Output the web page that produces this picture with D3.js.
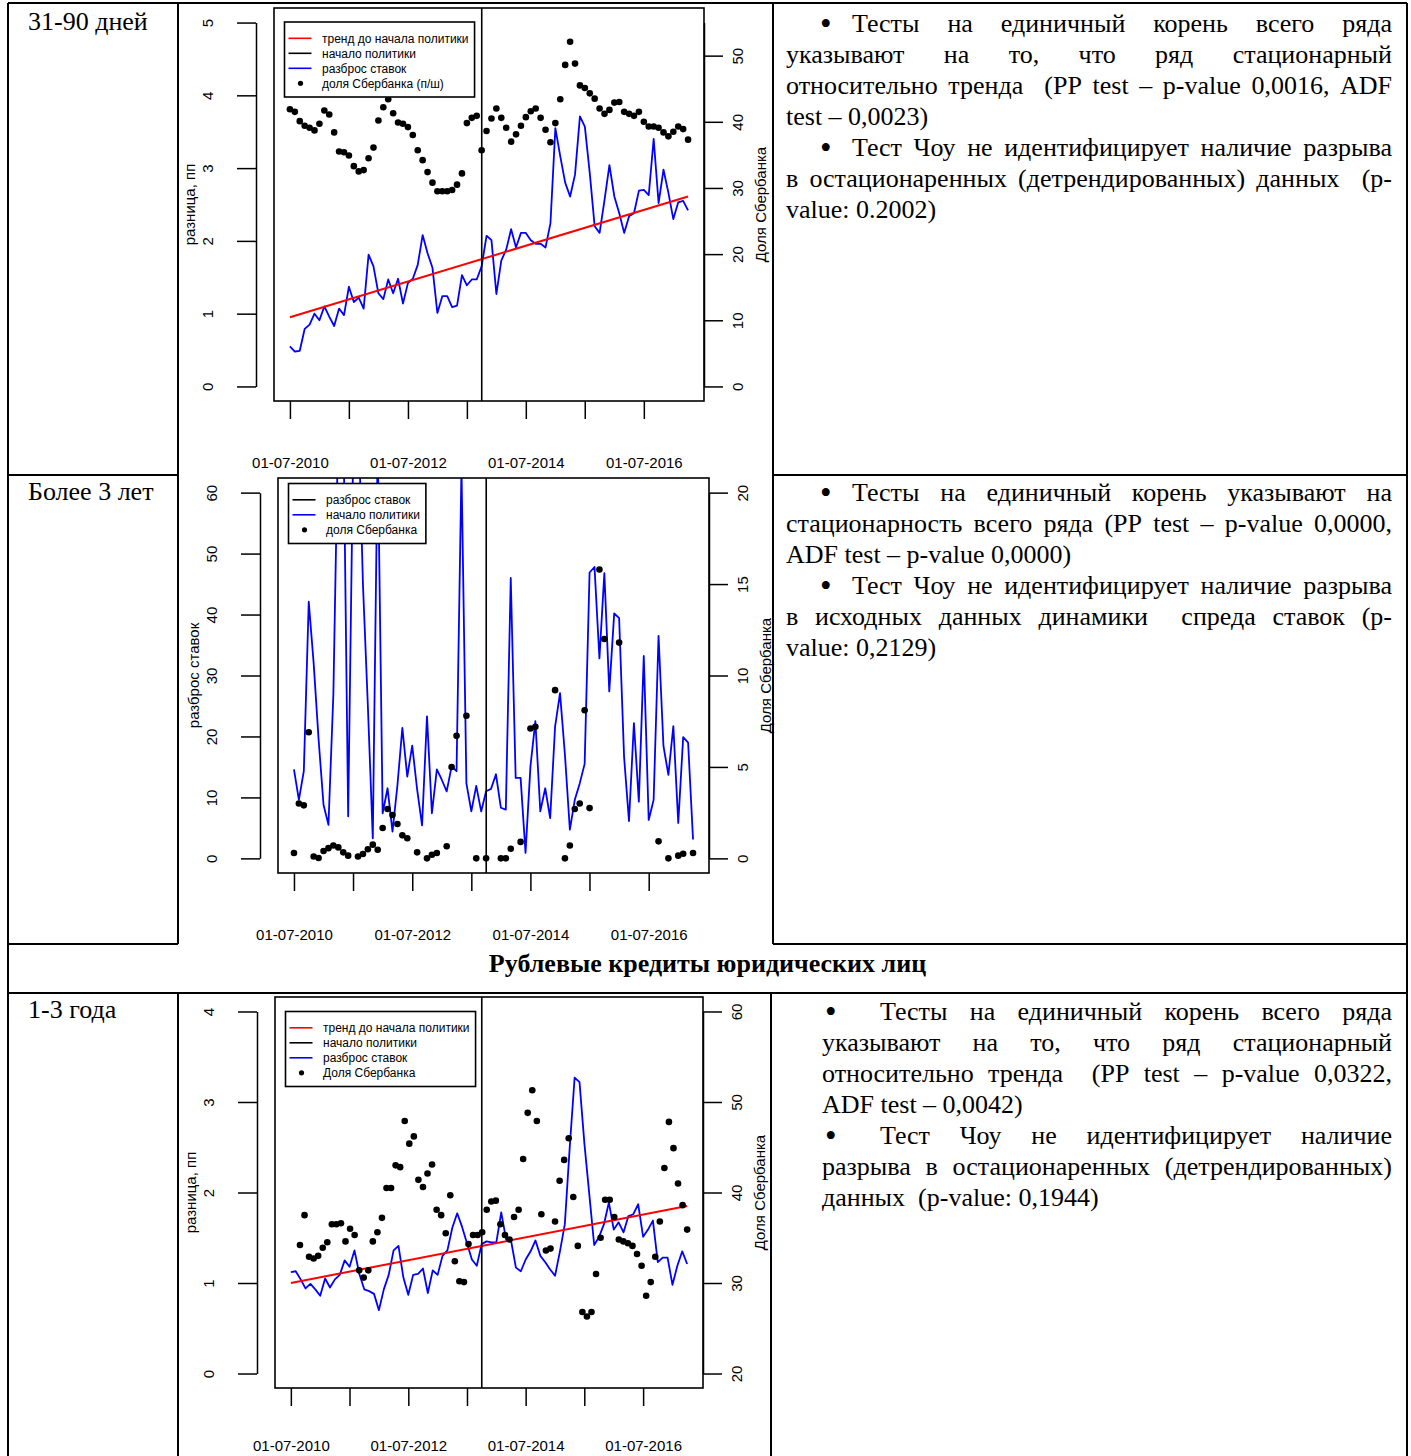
<!DOCTYPE html>
<html>
<head>
<meta charset="utf-8">
<script src="https://cdnjs.cloudflare.com/ajax/libs/d3/7.8.5/d3.min.js"></script>
<style>
body{margin:0;background:#fff}
svg{display:block}
</style>
</head>
<body>
<svg id="page" width="1411" height="1456"></svg>
<script>
// ---- data (monthly, 01-07-2010 .. 01-04-2017) ----
const spread1 = [0.55,0.48,0.49,0.79,0.85,1.0,0.91,1.1,0.96,0.83,
  1.07,0.98,1.37,1.16,1.22,1.07,1.81,1.65,1.28,1.2,
  1.47,1.28,1.48,1.14,1.42,1.48,1.67,2.08,1.83,1.63,
  1.01,1.24,1.24,1.09,1.11,1.53,1.39,1.47,1.47,1.65,
  2.07,2.01,1.27,1.73,1.88,2.16,1.91,2.11,2.11,2.01,
  1.96,1.96,1.91,2.24,3.55,3.16,2.8,2.61,2.91,3.71,
  3.57,2.93,2.2,2.11,2.56,3.04,2.61,2.38,2.11,2.34,
  2.38,2.69,2.7,2.63,3.4,2.52,2.98,2.66,2.3,2.53,
  2.55,2.42];
const share1 = [41.9,41.5,40.1,39.4,39.1,38.7,39.7,41.7,41.1,38.4,
  35.5,35.4,34.9,33.3,32.5,32.7,34.5,36.1,40.2,42.2,
  43.4,41.3,39.9,39.7,39.2,38.0,35.7,34.2,32.4,30.8,
  29.5,29.5,29.5,29.7,30.5,32.2,39.8,40.6,40.9,35.7,
  38.6,40.5,42.0,40.6,39.1,37.0,38.1,39.4,40.7,41.6,
  42.0,40.6,38.8,36.9,39.8,43.4,48.6,52.1,48.8,45.5,
  45.1,44.3,43.5,42.0,41.2,41.8,42.9,43.0,41.5,41.2,
  40.9,41.5,40.0,39.3,39.3,39.1,38.4,37.8,38.5,39.3,
  38.9,37.3];
const trend1 = [0.95, 2.61];

const spread2 = [14.6,9.6,14.3,42.1,32,19.5,8.8,5.5,27,72,
  74,6.9,66,75,45,25,3.3,68,7.4,11.5,
  4.4,12,21.4,13.4,18.5,11.3,5.4,23.3,7.4,14.6,
  12.9,11.0,15.1,14.3,64,12.3,7.7,11.9,7.7,11.0,
  11.4,13.8,8.3,8.0,46.0,13.2,13.2,0.9,15.1,22.5,
  7.7,11.5,6.6,21.6,27.1,17,4.7,9.6,12.3,15.5,
  46.9,47.8,32.8,46.8,27.4,40.2,39.4,16.7,6.1,22.2,
  9.3,33.2,6.3,9.6,36.5,18.4,13.7,21.7,5.8,19.9,
  19.0,3.1];
const share2 = [0.29,3.0,2.9,6.9,0.1,0.02,0.4,0.56,0.7,0.6,
  0.33,0.15,null,0.1,0.24,0.5,0.75,0.47,1.66,2.7,
  2.37,1.88,1.26,1.1,null,0.33,null,0,0.2,0.29,
  null,0.66,5.0,6.7,null,7.8,null,0,null,0,
  null,null,0,0,0.53,null,0.9,null,7.1,7.2,
  null,null,null,9.2,null,0,0.7,2.7,3.0,8.1,
  2.75,null,15.8,12.0,null,null,11.8,null,null,null,
  null,null,null,null,0.93,null,0,null,0.15,0.25,
  null,0.29];

const spread3 = [1.12,1.13,1.04,0.94,0.99,0.93,0.86,1.05,0.95,1.04,
  1.09,1.25,1.18,1.36,1.10,0.93,0.91,0.88,0.70,0.93,
  1.09,1.36,1.41,1.06,0.87,1.09,1.10,1.16,0.89,1.14,
  1.09,1.30,1.36,1.61,1.77,1.62,1.44,1.26,1.19,1.43,
  1.46,1.45,1.45,1.78,1.48,1.47,1.17,1.13,1.26,1.35,
  1.47,1.30,1.23,1.15,1.08,1.35,1.65,2.50,3.27,3.22,
  2.54,1.98,1.42,1.51,1.65,1.89,1.59,1.67,1.56,1.74,
  1.76,1.87,1.51,1.59,1.69,1.23,1.28,1.28,0.98,1.19,
  1.35,1.21];
const share3 = [null,null,
  34.2,37.5,32.9,32.7,33.0,33.9,34.5,36.5,36.5,36.6,
  34.6,36.0,35.3,31.4,30.6,31.4,34.6,35.6,37.2,40.5,
  40.5,43.0,42.8,47.9,45.4,46.2,41.4,40.6,42.1,43.1,
  38.1,37.5,35.5,39.7,32.4,30.2,30.1,34.3,35.3,35.3,
  35.6,38.1,39.0,39.1,36.5,35.3,34.8,37.3,38.1,43.7,
  48.8,51.3,47.9,37.6,33.6,33.8,36.8,41.3,43.6,46.0,
  39.5,34.1,26.8,26.3,26.8,31.0,35.0,39.2,39.2,37.3,
  34.8,34.6,34.4,34.1,33.2,31.9,28.6,30.1,32.9,36.8,
  42.7,47.8,44.9,41.0,38.6,35.9];
const trend3 = [1.0, 1.85];

const seriesStart = new Date(Date.UTC(2010, 6, 1));
const seriesEnd = new Date(Date.UTC(2017, 3, 1));
const policyDate = new Date(Date.UTC(2013, 9, 1));
const tickYears = [2010, 2011, 2012, 2013, 2014, 2015, 2016];
const labelYears = [2010, 2012, 2014, 2016];

const rowLabels = ['31-90 дней', 'Более 3 лет', '1-3 года'];
const headerText = 'Рублевые кредиты юридических лиц';

const charts = [
  {box:{l:274, r:704, t:8, b:401}, spread:spread1, share:share1, trend:trend1,
   left:[0,5], leftTicks:[0,1,2,3,4,5], right:[0,55], rightTicks:[0,10,20,30,40,50],
   leftTitle:'разница, пп', legendTop:14,
   legend:[['тренд до начала политики','line','#ff0000'],['начало политики','line','#000'],
           ['разброс ставок','line','#0000ff'],['доля Сбербанка (п/ш)','dot','#000']]},
  {box:{l:278, r:709, t:478, b:873}, spread:spread2, share:share2, trend:null,
   left:[0,60], leftTicks:[0,10,20,30,40,50,60], right:[0,20], rightTicks:[0,5,10,15,20],
   leftTitle:'разброс ставок', legendTop:5.5,
   legend:[['разброс ставок','line','#000'],['начало политики','line','#0000ff'],
           ['доля Сбербанка','dot','#000']]},
  {box:{l:275, r:703, t:997, b:1388}, spread:spread3, share:share3, trend:trend3,
   left:[0,4], leftTicks:[0,1,2,3,4], right:[20,60], rightTicks:[20,30,40,50,60],
   leftTitle:'разница, пп', legendTop:14.5,
   legend:[['тренд до начала политики','line','#ff0000'],['начало политики','line','#000'],
           ['разброс ставок','line','#0000ff'],['Доля Сбербанка','dot','#000']]}
];

const rowTexts = [
  {x0:786, x1:1392, y0:32, bulletX:821, indentX:852, lines:[
    [true,  true,  'Тесты на единичный корень всего ряда'],
    [false, true,  'указывают на то, что ряд стационарный'],
    [false, true,  'относительно тренда  (PP test – p-value 0,0016, ADF'],
    [false, false, 'test – 0,0023)'],
    [true,  true,  'Тест Чоу не идентифицирует наличие разрыва'],
    [false, true,  'в остационаренных (детрендированных) данных  (p-'],
    [false, false, 'value: 0.2002)']]},
  {x0:786, x1:1392, y0:501, bulletX:821, indentX:852, lines:[
    [true,  true,  'Тесты на единичный корень указывают на'],
    [false, true,  'стационарность всего ряда (PP test – p-value 0,0000,'],
    [false, false, 'ADF test – p-value 0,0000)'],
    [true,  true,  'Тест Чоу не идентифицирует наличие разрыва'],
    [false, true,  'в исходных данных динамики  спреда ставок (p-'],
    [false, false, 'value: 0,2129)']]},
  {x0:822, x1:1392, y0:1020, bulletX:826, indentX:880, lines:[
    [true,  true,  'Тесты на единичный корень всего ряда'],
    [false, true,  'указывают на то, что ряд стационарный'],
    [false, true,  'относительно тренда  (PP test – p-value 0,0322,'],
    [false, false, 'ADF test – 0,0042)'],
    [true,  true,  'Тест Чоу не идентифицирует наличие'],
    [false, true,  'разрыва в остационаренных (детрендированных)'],
    [false, false, 'данных  (p-value: 0,1944)']]}
];

const sans = "'Liberation Sans', Arial, sans-serif";
const serif = "'Liberation Serif', 'Times New Roman', serif";
const svg = d3.select('#page');

// ---- table ----
const tbl = svg.append('g').attr('stroke', '#000').attr('stroke-width', 2);
[[8,1407,3],[8,178,475],[773,1407,475],[8,178,944],[773,1407,944],[8,1407,993]].forEach(h =>
  tbl.append('line').attr('x1', h[0]).attr('x2', h[1]).attr('y1', h[2]).attr('y2', h[2]));
[[8,3,1456],[1407,3,1456],[178,3,944],[178,993,1456],[773,3,944],[771,993,1456]].forEach(v =>
  tbl.append('line').attr('x1', v[0]).attr('x2', v[0]).attr('y1', v[1]).attr('y2', v[2]));

const labelY = [30, 500, 1018];
rowLabels.forEach((t, i) => svg.append('text').attr('x', 28).attr('y', labelY[i])
  .attr('font-family', serif).attr('font-size', 26).text(t));
svg.append('text').attr('x', 707.5).attr('y', 972).attr('text-anchor', 'middle')
  .attr('font-family', serif).attr('font-size', 26).attr('font-weight', 'bold').text(headerText);

// ---- charts ----
charts.forEach((c, ci) => {
  const g = svg.append('g');
  const padX = (c.box.r - c.box.l) * 0.04 / 1.08;
  const padY = (c.box.b - c.box.t) * 0.04 / 1.08;
  const x = d3.scaleUtc([seriesStart, seriesEnd], [c.box.l + padX, c.box.r - padX]);
  const yL = d3.scaleLinear(c.left, [c.box.b - padY, c.box.t + padY]);
  const yR = d3.scaleLinear(c.right, [c.box.b - padY, c.box.t + padY]);
  const xs = d3.scaleLinear([0, c.spread.length - 1], x.range());
  const xd = d3.scaleLinear([0, c.share.length - 1], x.range());

  svg.append('clipPath').attr('id', 'clip' + ci).append('rect')
    .attr('x', c.box.l).attr('y', c.box.t).attr('width', c.box.r - c.box.l).attr('height', c.box.b - c.box.t);

  g.append('path').attr('clip-path', `url(#clip${ci})`)
    .attr('d', d3.line().x((d, i) => xs(i)).y(d => yL(d))(c.spread))
    .attr('fill', 'none').attr('stroke', '#0000ff').attr('stroke-width', 1.8).attr('stroke-linejoin', 'round');

  if (c.trend) {
    const n = c.spread.length - 1;
    g.append('line').attr('x1', xs(0)).attr('x2', xs(n)).attr('y1', yL(c.trend[0])).attr('y2', yL(c.trend[1]))
      .attr('stroke', '#ff0000').attr('stroke-width', 2);
  }

  g.append('line').attr('x1', x(policyDate)).attr('x2', x(policyDate)).attr('y1', c.box.t).attr('y2', c.box.b)
    .attr('stroke', '#000').attr('stroke-width', 1.6);

  g.append('g').selectAll('circle')
    .data(c.share.map((v, i) => ({v, i})).filter(d => d.v != null))
    .join('circle').attr('cx', d => xd(d.i)).attr('cy', d => yR(d.v)).attr('r', 3.3).attr('fill', '#000');

  g.append('rect').attr('x', c.box.l).attr('y', c.box.t).attr('width', c.box.r - c.box.l).attr('height', c.box.b - c.box.t)
    .attr('fill', 'none').attr('stroke', '#000').attr('stroke-width', 1.6);

  // left axis (offset from box, labels rotated like base R)
  const axL = g.append('g').attr('transform', `translate(${c.box.l - 18},0)`)
    .call(d3.axisLeft(yL).tickValues(c.leftTicks).tickSize(19).tickSizeOuter(0).tickFormat(d3.format('d')));
  axL.attr('font-family', sans).attr('font-size', 15);
  axL.selectAll('path, line').attr('stroke-width', 1.5);
  axL.selectAll('text').attr('x', 0).attr('dy', null).attr('text-anchor', 'middle')
    .attr('dominant-baseline', 'central').attr('transform', 'translate(-49,0) rotate(-90)');

  const axR = g.append('g').attr('transform', `translate(${c.box.r},0)`)
    .call(d3.axisRight(yR).tickValues(c.rightTicks).tickSize(19).tickSizeOuter(0).tickFormat(d3.format('d')));
  axR.attr('font-family', sans).attr('font-size', 15);
  axR.selectAll('path, line').attr('stroke-width', 1.5);
  axR.selectAll('text').attr('x', 0).attr('dy', null).attr('text-anchor', 'middle')
    .attr('dominant-baseline', 'central').attr('transform', 'translate(33,0) rotate(-90)');

  const axX = g.append('g').attr('transform', `translate(0,${c.box.b})`)
    .call(d3.axisBottom(x).tickValues(tickYears.map(yr => new Date(Date.UTC(yr, 6, 1)))).tickSize(18)
      .tickFormat(d => labelYears.includes(d.getUTCFullYear()) ? '01-07-' + d.getUTCFullYear() : ''));
  axX.select('.domain').remove();
  axX.attr('font-family', sans).attr('font-size', 15);
  axX.selectAll('line').attr('stroke-width', 1.5);
  // keep the last row's labels inside the page
  axX.selectAll('text').attr('y', Math.min(62, 1446 - c.box.b)).attr('dy', '0.35em');

  const midY = (c.box.t + c.box.b) / 2;
  g.append('text').attr('transform', `translate(${c.box.l - 84.5},${midY}) rotate(-90)`)
    .attr('text-anchor', 'middle').attr('dominant-baseline', 'central')
    .attr('font-family', sans).attr('font-size', 15).text(c.leftTitle);
  g.append('text').attr('transform', `translate(${c.box.r + 56},${midY}) rotate(-90)`)
    .attr('text-anchor', 'middle').attr('dominant-baseline', 'central')
    .attr('font-family', sans).attr('font-size', 15).text('Доля Сбербанка');

  // legend
  const lg = g.append('g').attr('transform', `translate(${c.box.l + 10.5},${c.box.t + c.legendTop})`)
    .attr('font-family', sans).attr('font-size', 12);
  const lrect = lg.append('rect').attr('fill', '#fff').attr('stroke', '#000').attr('stroke-width', 1.6)
    .attr('height', 15 * c.legend.length + 15);
  let maxW = 0;
  c.legend.forEach((e, i) => {
    const yy = 16.3 + i * 15;
    if (e[1] === 'line') {
      lg.append('line').attr('x1', 4).attr('x2', 27).attr('y1', yy).attr('y2', yy).attr('stroke', e[2]).attr('stroke-width', 1.6);
    } else {
      lg.append('circle').attr('cx', 16).attr('cy', yy).attr('r', 2.6).attr('fill', e[2]);
    }
    const t = lg.append('text').attr('x', 37.5).attr('y', yy + 4.3).text(e[0]);
    maxW = Math.max(maxW, t.node().getComputedTextLength());
  });
  lrect.attr('width', 37.5 + maxW + 6);
});

// ---- justified text cells ----
rowTexts.forEach(r => {
  const g = svg.append('g').attr('font-family', serif).attr('font-size', 26);
  r.lines.forEach((ln, i) => {
    const y = r.y0 + i * 31;
    let start = r.x0;
    if (ln[0]) {
      g.append('text').attr('x', r.bulletX - 1).attr('y', y + 2.5).attr('font-size', 33).text('•');
      start = r.indentX;
    }
    if (!ln[1]) {
      g.append('text').attr('x', start).attr('y', y).attr('xml:space', 'preserve').text(ln[2]);
      return;
    }
    const words = ln[2].split(' ');
    const nodes = words.map(w => g.append('text').attr('y', y).text(w));
    const widths = nodes.map(nd => nd.node().getComputedTextLength());
    const gap = (r.x1 - start - d3.sum(widths)) / (words.length - 1);
    let xx = start;
    nodes.forEach((nd, k) => { nd.attr('x', xx); xx += widths[k] + gap; });
  });
});
</script>
</body>
</html>
